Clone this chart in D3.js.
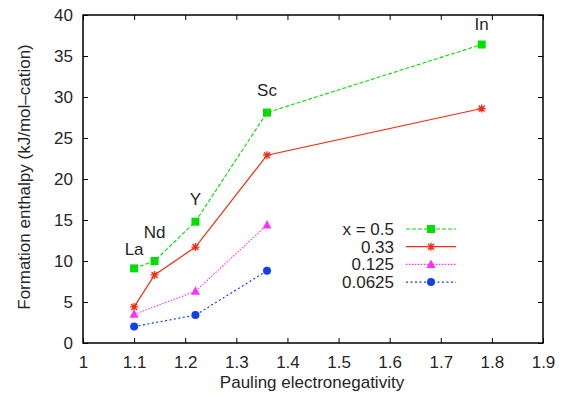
<!DOCTYPE html>
<html>
<head>
<meta charset="utf-8">
<script src="https://cdn.jsdelivr.net/npm/d3@7"></script>
<style>
  body { margin: 0; background: #fff; }
  svg text { font-family: "Liberation Sans", Arial, sans-serif; fill: #262626; }
</style>
</head>
<body>
<div id="chart"></div>
<script>
// electronegativity of the dopant cations
const enX = [1.1, 1.14, 1.22, 1.36, 1.78];
const enXShort = [1.1, 1.22, 1.36];
const elements = ["La", "Nd", "Y", "Sc", "In"];
const labelY = [10.7, 12.8, 16.8, 30.1, 38.2];

const seriesNames = ["x = 0.5", "0.33", "0.125", "0.0625"];
const valsHalf = [9.1, 10.0, 14.8, 28.1, 36.4];
const valsThird = [4.4, 8.3, 11.7, 22.9, 28.6];
const valsEighth = [3.5, 6.3, 14.4];
const valsSixteenth = [2.0, 3.4, 8.8];

const xTicks = [1, 1.1, 1.2, 1.3, 1.4, 1.5, 1.6, 1.7, 1.8, 1.9];
const yTicks = [0, 5, 10, 15, 20, 25, 30, 35, 40];

const W = 565, H = 396;
const margin = {top: 15, right: 22, bottom: 53, left: 83};
const width = W - margin.left - margin.right,
      height = H - margin.top - margin.bottom;
const fs = "17px";

const svg = d3.select("#chart").append("svg")
  .attr("width", W).attr("height", H);
const g = svg.append("g")
  .attr("transform", "translate(" + margin.left + "," + margin.top + ")");

var x = d3.scaleLinear().domain([1, 1.9]).range([0, width]);
var y = d3.scaleLinear().domain([0, 40]).range([height, 0]);

const series = [
  {name: seriesNames[0], xs: enX, vals: valsHalf, color: "#00e000", dash: "4,2", width: 1.1, marker: "square"},
  {name: seriesNames[1], xs: enX, vals: valsThird, color: "#f52a10", dash: null, width: 1.2, marker: "star"},
  {name: seriesNames[2], xs: enXShort, vals: valsEighth, color: "#ff30ff", dash: "1.5,1.5", width: 1.1, marker: "triangle"},
  {name: seriesNames[3], xs: enXShort, vals: valsSixteenth, color: "#1040f0", dash: "2,2.5", width: 1.2, marker: "circle"}
];

// axes with inward ticks, mirrored on top/right
const tickFmt = d => d3.format("")(d);
g.append("g").attr("transform", `translate(0,${height})`)
  .call(d3.axisBottom(x).tickValues(xTicks).tickSizeInner(-5).tickSizeOuter(0).tickPadding(13).tickFormat(tickFmt));
g.append("g")
  .call(d3.axisTop(x).tickValues(xTicks).tickSizeInner(-5).tickSizeOuter(0).tickFormat(""));
g.append("g")
  .call(d3.axisLeft(y).tickValues(yTicks).tickSizeInner(-5).tickSizeOuter(0).tickPadding(10).tickFormat(tickFmt));
g.append("g").attr("transform", `translate(${width},0)`)
  .call(d3.axisRight(y).tickValues(yTicks).tickSizeInner(-5).tickSizeOuter(0).tickFormat(""));

g.selectAll(".domain").remove();
g.selectAll(".tick line").attr("stroke", "#000").attr("stroke-width", 1);
g.selectAll(".tick text").style("font-size", fs).attr("fill", "#262626");

g.append("rect")
  .attr("x", 0).attr("y", 0).attr("width", width).attr("height", height)
  .attr("fill", "none").attr("stroke", "#000").attr("stroke-width", 1.5);

function drawMarker(sel, type, color) {
  if (type == "square") {
    sel.append("rect").attr("x", -4).attr("y", -4).attr("width", 8).attr("height", 8).attr("fill", color);
  } else if (type == "circle") {
    sel.append("circle").attr("r", 4).attr("fill", color);
  } else if (type == "triangle") {
    sel.append("path").attr("d", "M0,-5L4.5,3.5L-4.5,3.5Z").attr("fill", color);
  } else {
    sel.append("path").attr("d", "M-4,0H4M0,-4V4M-3,-3L3,3M-3,3L3,-3")
      .attr("stroke", color).attr("stroke-width", 1.3).attr("fill", "none");
  }
}

series.forEach(function(s) {
  const pts = s.vals.map((v, i) => [s.xs[i], v]);
  const line = d3.line().x(d => x(d[0])).y(d => y(d[1]));
  g.append("path").datum(pts)
    .attr("d", line)
    .attr("fill", "none")
    .attr("stroke", s.color)
    .attr("stroke-width", s.width)
    .attr("stroke-dasharray", s.dash);
  pts.forEach(function(p) {
    drawMarker(g.append("g").attr("transform", `translate(${x(p[0])},${y(p[1])})`), s.marker, s.color);
  });
});

// element labels
elements.forEach(function(el, i) {
  g.append("text")
    .attr("x", x(enX[i]))
    .attr("y", y(labelY[i]))
    .attr("text-anchor", "middle")
    .style("font-size", fs)
    .text(el);
});

// legend
const legend = g.append("g").attr("transform", "translate(311,214)");
series.forEach(function(s, i) {
  const row = legend.append("g").attr("transform", `translate(0,${i * 17.7})`);
  row.append("text").attr("x", 0).attr("y", 6).attr("text-anchor", "end")
    .style("font-size", fs).text(s.name);
  row.append("line").attr("x1", 12).attr("x2", 62).attr("y1", 0).attr("y2", 0)
    .attr("stroke", s.color).attr("stroke-width", s.width).attr("stroke-dasharray", s.dash);
  drawMarker(row.append("g").attr("transform", "translate(37,0)"), s.marker, s.color);
});

// axis titles
svg.append("text")
  .attr("x", margin.left + width / 2 - 1).attr("y", 388)
  .attr("text-anchor", "middle").style("font-size", fs)
  .text("Pauling electronegativity");
svg.append("text")
  .attr("transform", "rotate(-90)")
  .attr("x", -177).attr("y", 30)
  .attr("text-anchor", "middle").style("font-size", fs)
  .text("Formation enthalpy (kJ/mol\u2013cation)");
</script>
</body>
</html>
